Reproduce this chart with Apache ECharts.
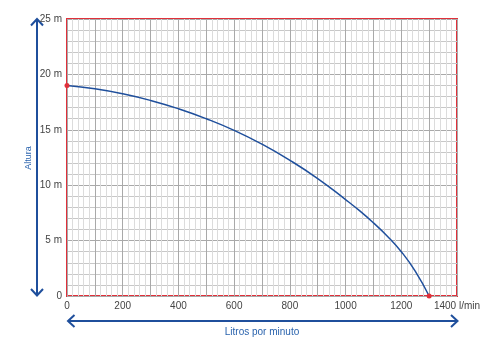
<!DOCTYPE html>
<html>
<head>
<meta charset="utf-8">
<script src="https://cdn.jsdelivr.net/npm/echarts@6/dist/echarts.min.js"></script>
<style>
  html, body { margin: 0; padding: 0; background: #fff; }
  #main { width: 500px; height: 353px; }
</style>
</head>
<body>
<div id="main"></div>
<script>
// caudal (l/min) y altura (m)
var caudal = [0, 100, 200, 300, 400, 500, 600, 700, 800, 900, 1000, 1050, 1100, 1150, 1200, 1250, 1300];
var altura = [19.0, 18.7, 18.25, 17.65, 16.9, 16.0, 14.95, 13.7, 12.25, 10.6, 8.7, 7.7, 6.6, 5.4, 4.0, 2.25, 0];
var xTicks = [0, 200, 400, 600, 800, 1000, 1200, 1400];
var yTicks = [0, 5, 10, 15, 20, 25];

var chart = echarts.init(document.getElementById('main'));
var azul = '#1f4f9c';
var rojo = '#e0303a';

var puntos = caudal.map(function (q, i) {
  var p = { value: [q, altura[i]] };
  if (i === 0 || i === caudal.length - 1) {
    p.symbol = 'circle';
    p.symbolSize = 5;
    p.itemStyle = { color: rojo };
  } else {
    p.symbol = 'none';
  }
  return p;
});

var option = {
  animation: false,
  grid: {
    left: 67, top: 19, right: 43, bottom: 57,
    show: true, borderColor: rojo, borderWidth: 2
  },
  xAxis: {
    type: 'value', min: 0, max: 1400, interval: 100,
    axisLine: { show: false },
    axisTick: { show: false },
    axisLabel: {
      margin: 5, fontSize: 10, color: '#444', fontFamily: 'Liberation Sans',
      formatter: function (v) {
        if (xTicks.indexOf(v) < 0) return '';
        return v === 1400 ? '1400 l/min' : String(v);
      }
    },
    splitLine: { lineStyle: { color: '#a9a9a9', width: 1 } },
    minorTick: { show: true, splitNumber: 5, length: 0 },
    minorSplitLine: { show: true, lineStyle: { color: '#dcdcdc', width: 1 } }
  },
  yAxis: {
    type: 'value', min: 0, max: 25, interval: 5,
    axisLine: { show: false },
    axisTick: { show: false },
    axisLabel: {
      margin: 5, fontSize: 10, color: '#444', fontFamily: 'Liberation Sans',
      formatter: function (v) {
        if (yTicks.indexOf(v) < 0) return '';
        return v === 0 ? '0' : v + ' m';
      }
    },
    splitLine: { lineStyle: { color: '#a9a9a9', width: 1 } },
    minorTick: { show: true, splitNumber: 5, length: 0 },
    minorSplitLine: { show: true, lineStyle: { color: '#c8c8c8', width: 1 } }
  },
  series: [{
    type: 'line',
    smooth: 0.5,
    data: puntos,
    lineStyle: { color: azul, width: 1.5 },
    z: 5
  }],
  graphic: [
    // flecha vertical
    { type: 'line', shape: { x1: 37, y1: 19, x2: 37, y2: 295 }, style: { stroke: azul, lineWidth: 2 } },
    { type: 'polyline', shape: { points: [[31, 25.5], [37, 19], [43, 25.5]] }, style: { stroke: azul, lineWidth: 2, fill: null } },
    { type: 'polyline', shape: { points: [[31, 289], [37, 295.5], [43, 289]] }, style: { stroke: azul, lineWidth: 2, fill: null } },
    { type: 'text', x: 29, y: 158, rotation: Math.PI / 2,
      style: { text: 'Altura', fill: '#2a63ad', fontSize: 9, fontFamily: 'Liberation Sans', align: 'center', verticalAlign: 'middle' } },
    // flecha horizontal
    { type: 'line', shape: { x1: 68, y1: 321, x2: 457, y2: 321 }, style: { stroke: azul, lineWidth: 2 } },
    { type: 'polyline', shape: { points: [[74.5, 315], [68, 321], [74.5, 327]] }, style: { stroke: azul, lineWidth: 2, fill: null } },
    { type: 'polyline', shape: { points: [[451, 315], [457.5, 321], [451, 327]] }, style: { stroke: azul, lineWidth: 2, fill: null } },
    { type: 'text', x: 262, y: 332,
      style: { text: 'Litros por minuto', fill: '#2a63ad', fontSize: 10, fontFamily: 'Liberation Sans', align: 'center', verticalAlign: 'middle' } }
  ]
};

chart.setOption(option);
</script>
</body>
</html>
